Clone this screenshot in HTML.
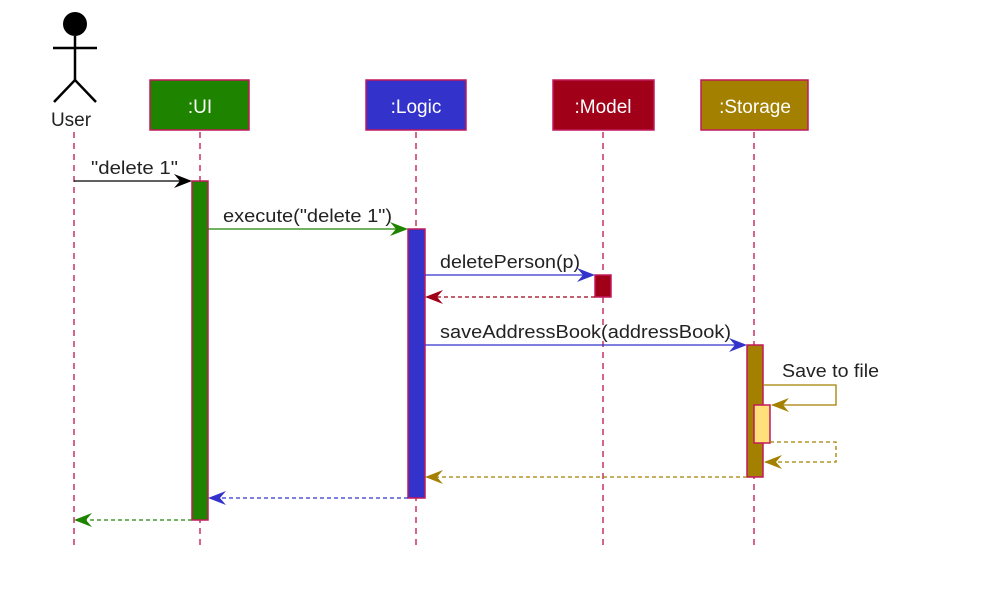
<!DOCTYPE html>
<html><head><style>body{margin:0;background:#fff}svg{display:block}</style></head><body>
<svg width="986" height="592" xmlns="http://www.w3.org/2000/svg" font-family="Liberation Sans, sans-serif">
<g stroke="#B8003C" stroke-width="1.2" stroke-dasharray="6,5">
<line x1="74" y1="132" x2="74" y2="545"/><line x1="200" y1="132" x2="200" y2="545"/>
<line x1="416" y1="132" x2="416" y2="545"/><line x1="603" y1="132" x2="603" y2="545"/>
<line x1="754" y1="132" x2="754" y2="545"/></g>
<circle cx="75" cy="24" r="12" fill="#000"/>
<g stroke="#000" stroke-width="2.5" fill="none"><line x1="75" y1="36" x2="75" y2="80"/><line x1="53" y1="48" x2="97" y2="48"/><polyline points="54,102 75,80 96,102"/></g>
<text x="71" y="126" font-size="19" text-anchor="middle" fill="#222">User</text>
<g stroke="#C2185B" stroke-width="1.5">
<rect x="150" y="80" width="99" height="50" fill="#1E8400"/>
<rect x="366" y="80" width="100" height="50" fill="#3333CC"/>
<rect x="553" y="80" width="101" height="50" fill="#A00018"/>
<rect x="701" y="80" width="107" height="50" fill="#A38000"/></g>
<g fill="#fff" font-size="19" text-anchor="middle">
<text x="200" y="113">:UI</text><text x="416" y="113">:Logic</text><text x="603" y="113">:Model</text><text x="755" y="113">:Storage</text></g>
<g stroke="#C2185B" stroke-width="1.5">
<rect x="192" y="181" width="16" height="339" fill="#1E8400"/>
<rect x="408" y="229" width="17" height="269" fill="#3333CC"/>
<rect x="595" y="275" width="16" height="22" fill="#A00018"/>
<rect x="747" y="345" width="16" height="132" fill="#A38000"/>
<rect x="754" y="405" width="16" height="38" fill="#FFE07A"/></g>
<g font-size="18" fill="#222">
<text x="91" y="174" textLength="87" lengthAdjust="spacingAndGlyphs">"delete 1"</text><text x="223" y="222" textLength="169" lengthAdjust="spacingAndGlyphs">execute("delete 1")</text>
<text x="440" y="268" textLength="140" lengthAdjust="spacingAndGlyphs">deletePerson(p)</text><text x="440" y="338" textLength="291" lengthAdjust="spacingAndGlyphs">saveAddressBook(addressBook)</text>
<text x="782" y="377" textLength="97" lengthAdjust="spacingAndGlyphs">Save to file</text></g>
<g fill="none" stroke-width="1.3">
<line x1="74" y1="181" x2="190" y2="181" stroke="#000"/>
<line x1="208" y1="229" x2="406" y2="229" stroke="#1E8400"/>
<line x1="425" y1="275" x2="593" y2="275" stroke="#3333CC"/>
<line x1="425" y1="345" x2="745" y2="345" stroke="#3333CC"/>
<polyline points="763,385 836,385 836,405 772,405" stroke="#A38000"/>
<g stroke-dasharray="4,3">
<line x1="595" y1="297" x2="427" y2="297" stroke="#A00018"/>
<polyline points="770,442 836,442 836,462 765,462" stroke="#A38000"/>
<line x1="747" y1="477" x2="427" y2="477" stroke="#A38000"/>
<line x1="408" y1="498" x2="210" y2="498" stroke="#3333CC"/>
<line x1="192" y1="520" x2="76" y2="520" stroke="#1E8400"/></g></g>
<polygon points="192,181 174,174 180,181 174,188" fill="#000"/>
<polygon points="408,229 390,222 396,229 390,236" fill="#1E8400"/>
<polygon points="595,275 577,268 583,275 577,282" fill="#3333CC"/>
<polygon points="747,345 729,338 735,345 729,352" fill="#3333CC"/>
<polygon points="771,405 789,398 783,405 789,412" fill="#A38000"/>
<polygon points="425,297 443,290 437,297 443,304" fill="#A00018"/>
<polygon points="764,462 782,455 776,462 782,469" fill="#A38000"/>
<polygon points="425,477 443,470 437,477 443,484" fill="#A38000"/>
<polygon points="208,498 226,491 220,498 226,505" fill="#3333CC"/>
<polygon points="74,520 92,513 86,520 92,527" fill="#1E8400"/>
</svg></body></html>
